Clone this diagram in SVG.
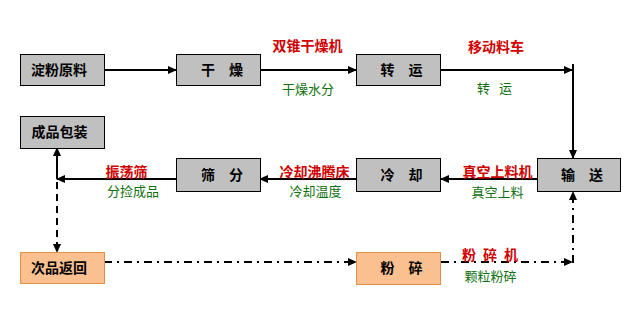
<svg xmlns="http://www.w3.org/2000/svg" width="644" height="318" viewBox="0 0 644 318">
<style>
.box{fill:#c0c0c0;stroke:#000;stroke-width:1}
.obox{fill:#fac090;stroke:#e0904a;stroke-width:1}
.bt{font-family:"Noto Sans CJK SC","Noto Sans CJK JP",sans-serif;font-size:14px;font-weight:bold;fill:#000;text-anchor:middle}
.rl{font-family:"Noto Sans CJK SC","Noto Sans CJK JP",sans-serif;font-size:14px;font-weight:bold;fill:#d00000;text-anchor:middle}
.gl{font-family:"Noto Sans CJK SC","Noto Sans CJK JP",sans-serif;font-size:13px;fill:#107010;text-anchor:middle}
.ln{fill:none;stroke:#000;stroke-width:2}
.dash{stroke-dasharray:7 5}
.dd{stroke-dasharray:8 5 2 5}
</style>
<defs>
<marker id="ah" markerUnits="userSpaceOnUse" markerWidth="10" markerHeight="10" refX="8" refY="5" orient="auto">
<path d="M0,1 L9,5 L0,9 Z" fill="#000"/>
</marker>
</defs>
<rect width="644" height="318" fill="#fff"/>
<g id="connectors">
<line class="ln" x1="105" y1="70" x2="176" y2="70" marker-end="url(#ah)"/>
<line class="ln" x1="260" y1="70" x2="356" y2="70" marker-end="url(#ah)"/>
<line class="ln" x1="441" y1="70" x2="572" y2="70" marker-end="url(#ah)"/>
<line class="ln" x1="573" y1="64" x2="573" y2="158" marker-end="url(#ah)"/>
<line class="ln" x1="537" y1="179" x2="441" y2="179" marker-end="url(#ah)"/>
<line class="ln" x1="356" y1="179" x2="260" y2="179" marker-end="url(#ah)"/>
<line class="ln" x1="176" y1="179" x2="57" y2="179" marker-end="url(#ah)"/>
<line class="ln" x1="57" y1="179" x2="57" y2="148" marker-end="url(#ah)"/>
<line class="ln dash" x1="57" y1="182" x2="57" y2="252" marker-end="url(#ah)"/>
<line class="ln dd" x1="104" y1="262" x2="356" y2="262" marker-end="url(#ah)"/>
<line class="ln dd" x1="441" y1="262" x2="572" y2="262" marker-end="url(#ah)"/>
<line class="ln dd" x1="573" y1="263" x2="573" y2="192" marker-end="url(#ah)"/>
</g>
<g id="n-dianfen"><rect class="box" x="20.5" y="54.5" width="84" height="31"/><text class="bt" x="59" y="75">淀粉原料</text></g>
<g id="n-ganzao"><rect class="box" x="176.5" y="54.5" width="84" height="31"/><text class="bt" x="222" y="75">干　燥</text></g>
<g id="n-zhuanyun"><rect class="box" x="356.5" y="54.5" width="84" height="31"/><text class="bt" x="401.5" y="75">转　运</text></g>
<g id="n-shusong"><rect class="box" x="537.5" y="158.5" width="83" height="33"/><text class="bt" x="582" y="180">输　送</text></g>
<g id="n-lengque"><rect class="box" x="356.5" y="158.5" width="84" height="33"/><text class="bt" x="401.5" y="180">冷　却</text></g>
<g id="n-shaifen"><rect class="box" x="176.5" y="158.5" width="84" height="33"/><text class="bt" x="222" y="180">筛　分</text></g>
<g id="n-chengpin"><rect class="box" x="20.5" y="116.5" width="84" height="32"/><text class="bt" x="59.5" y="137">成品包装</text></g>
<g id="n-cipin"><rect class="obox" x="20.5" y="252.5" width="84" height="31"/><text class="bt" x="59" y="273">次品返回</text></g>
<g id="n-fensui"><rect class="obox" x="356.5" y="252.5" width="84" height="32"/><text class="bt" x="401.5" y="273">粉　碎</text></g>
<g id="labels">
<text class="rl" x="307.5" y="51">双锥干燥机</text>
<text class="gl" x="308" y="94">干燥水分</text>
<text class="rl" x="496" y="52">移动料车</text>
<text class="gl" x="483.5" y="93">转</text>
<text class="gl" x="505.5" y="93">运</text>
<text class="rl" x="497.5" y="177">真空上料机</text>
<text class="gl" x="497.5" y="197">真空上料</text>
<text class="rl" x="314.5" y="177">冷却沸腾床</text>
<text class="gl" x="315.5" y="196">冷却温度</text>
<text class="rl" x="126.5" y="177">振荡筛</text>
<text class="gl" x="133" y="196">分捡成品</text>
<text class="rl" x="469" y="260">粉</text>
<text class="rl" x="490" y="260">碎</text>
<text class="rl" x="511" y="260">机</text>
<text class="gl" x="490.5" y="281">颗粒粉碎</text>
</g>
</svg>
